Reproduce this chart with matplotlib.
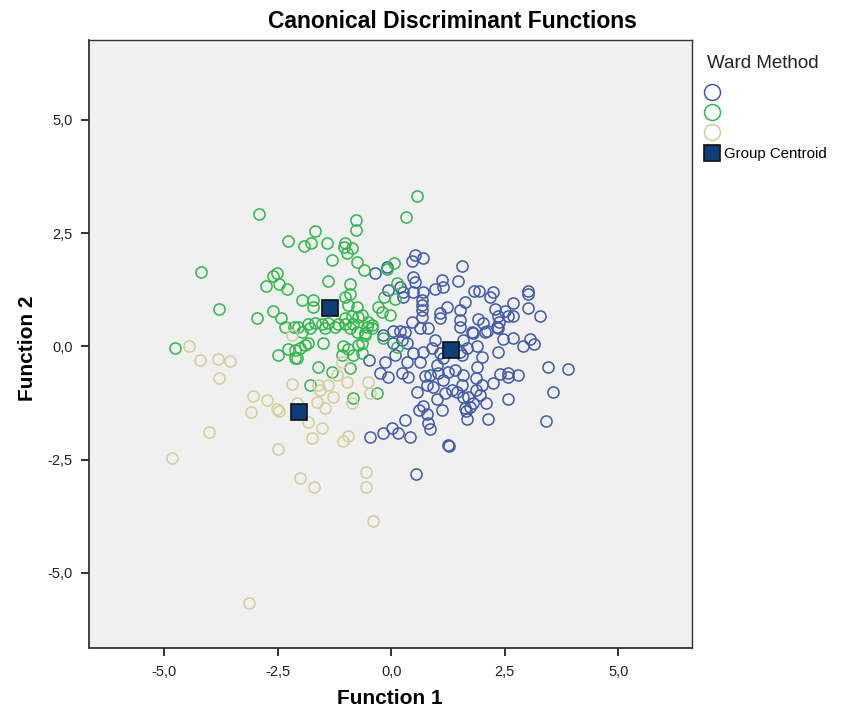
import matplotlib
matplotlib.use("Agg")
import matplotlib.pyplot as plt
from matplotlib.lines import Line2D
from matplotlib.ticker import FuncFormatter

plt.rcParams['font.family'] = ['Liberation Sans', 'DejaVu Sans']

# Group 1 (blue)
blue_x = [0.53, 0.46, 0.70, -0.35, -0.09, 1.56, 1.12, 1.48, 0.48, 0.53, 1.15, 0.97, 0.70, 0.48, 0.26,
          -0.07, 0.20, 0.26, 0.68, 0.68, 0.68, 1.23, 1.63, 1.52, 1.08, 1.08, 1.52, 1.52, 0.46, 0.68,
          0.81, 0.64, 0.04, 0.20, 0.31, -0.18, 0.24, 0.35, 0.04, 0.97, 0.90, 0.70, 0.48, 0.09, -0.13,
          -0.48, 0.35, 0.64, 1.01, 1.15, 1.08, 1.52, -0.24, -0.07, 0.24, 0.37, 0.75, 0.86, 1.04, 1.26,
          1.41, 1.56, 1.15, 0.79, 0.93, 1.19, 1.34, 0.57, 1.01, 1.45, 1.70, 1.63, 0.70, 0.62, 0.79,
          1.12, 0.31, 0.81, 0.86, 0.02, -0.18, 0.15, 0.42, -0.46, 1.26, 0.55, 1.83, 1.94, 2.25, 2.18,
          3.00, 3.00, 2.67, 3.00, 3.28, 2.29, 2.51, 2.69, 2.56, 1.92, 2.03, 2.36, 2.38, 2.33, 1.81,
          2.07, 2.47, 2.69, 2.89, 3.06, 3.15, 2.36, 1.59, 1.67, 1.56, 1.89, 2.00, 1.89, 3.46, 3.88,
          2.40, 2.56, 2.58, 2.80, 2.25, 1.87, 1.59, 2.00, 1.87, 1.59, 1.96, 2.09, 1.81, 1.74, 1.65,
          1.67, 2.14, 2.56, 3.57, 3.41, 1.28, 1.78, 2.11, 2.36]
blue_y = [2.01, 1.88, 1.94, 1.61, 1.74, 1.77, 1.46, 1.43, 1.52, 1.41, 1.30, 1.26, 1.19, 1.19, 1.19,
          1.24, 1.30, 1.08, 1.02, 0.91, 0.79, 0.86, 0.97, 0.79, 0.73, 0.62, 0.57, 0.42, 0.53, 0.64,
          0.40, 0.40, 0.33, 0.33, 0.31, 0.24, 0.13, 0.07, 0.07, 0.13, -0.04, -0.13, -0.15, -0.20, -0.35,
          -0.31, -0.35, -0.35, -0.42, -0.26, -0.15, -0.13, -0.60, -0.68, -0.60, -0.68, -0.66, -0.64, -0.60, -0.57,
          -0.53, -0.86, -0.75, -0.86, -0.91, -1.04, -0.97, -1.02, -1.17, -1.02, -1.13, -1.37, -1.32, -1.41, -1.50,
          -1.41, -1.63, -1.70, -1.83, -1.81, -1.92, -1.92, -2.01, -2.01, -2.19, -2.83, 1.21, 1.21, 1.19, 1.08,
          1.21, 1.15, 0.95, 0.84, 0.66, 0.82, 0.77, 0.66, 0.66, 0.60, 0.51, 0.66, 0.53, 0.42, 0.29,
          0.31, 0.15, 0.18, 0.00, 0.15, 0.04, -0.13, 0.13, -0.04, -0.20, 0.00, -0.24, -0.46, -0.46, -0.51,
          -0.62, -0.60, -0.68, -0.64, -0.82, -0.71, -0.64, -0.86, -0.97, -1.13, -1.08, -1.26, -1.26, -1.35, -1.43,
          -1.61, -1.61, -1.17, -1.02, -1.66, -2.21, 0.31, 0.33, 0.40]

# Group 2 (green)
green_x = [0.57, -2.91, 0.33, -0.77, -0.77, -1.67, -2.27, -1.92, -1.76, -1.41, -1.01, -1.04, -0.86, -0.97,
           -1.30, -0.75, -0.59, 0.07, -0.09, -1.39, -0.90, 0.13, -0.15, 0.09, -1.96, -1.72, -1.72, -1.01,
           -0.90, -0.75, -0.95, -0.29, -0.20, -0.02, -0.86, -0.73, -1.01, -0.51, -0.42, -1.83, -1.67, -1.52,
           -1.39, -1.17, -1.01, -0.84, -2.05, -4.19, -2.51, -2.60, -2.75, -2.47, -2.29, -3.79, -2.60, -2.42,
           -2.95, -2.33, -2.14, -4.76, -2.49, -2.27, -2.11, -2.11, -1.96, -1.78, -1.45, -1.23, -0.90, -0.75,
           -0.57, -0.42, -0.18, -1.89, -2.00, -2.07, -1.83, -1.50, -1.06, -0.95, -0.73, -0.84, -1.08, 0.13,
           -1.61, -1.30, -0.90, -1.78, -0.84, -0.31, -0.64, -0.53, -0.57, -0.64, -0.64]
green_y = [3.31, 2.91, 2.85, 2.78, 2.56, 2.54, 2.32, 2.21, 2.27, 2.27, 2.27, 2.19, 2.16, 2.05,
           1.90, 1.85, 1.68, 1.83, 1.70, 1.43, 1.37, 1.39, 1.08, 1.04, 1.02, 1.02, 0.86, 1.08,
           1.15, 0.86, 0.91, 0.86, 0.75, 0.68, 0.66, 0.64, 0.62, 0.53, 0.46, 0.49, 0.51, 0.49,
           0.51, 0.49, 0.49, 0.49, 0.42, 1.63, 1.61, 1.55, 1.32, 1.37, 1.26, 0.82, 0.77, 0.62,
           0.62, 0.42, 0.42, -0.04, -0.20, -0.07, -0.09, -0.26, 0.31, 0.40, 0.40, 0.42, 0.40, 0.31,
           0.29, 0.40, 0.18, 0.02, -0.04, -0.26, 0.07, 0.07, 0.00, -0.07, 0.02, -0.20, -0.20, -0.02,
           -0.46, -0.57, -0.49, -0.86, -1.15, -1.04, 0.68, 0.42, 0.24, 0.07, -0.15]

# Group 3 (beige)
beige_x = [-4.45, -4.21, -3.81, -3.55, -3.79, -4.01, -4.82, -3.04, -2.73, -2.51, -2.47, -3.08, -2.49,
           -2.18, -2.18, -2.00, -1.70, -0.55, -0.55, -0.40, -3.13, -1.83, -1.52, -1.74, -1.06, -0.95,
           -1.08, -1.19, -0.97, -1.39, -1.61, -1.56, -1.28, -0.86, -1.63, -1.45, -0.51, -0.46, -2.07]
beige_y = [0.00, -0.31, -0.29, -0.33, -0.71, -1.90, -2.47, -1.10, -1.19, -1.39, -1.43, -1.46, -2.27,
           -0.84, 0.24, -2.91, -3.11, -2.78, -3.11, -3.86, -5.67, -1.68, -1.81, -2.03, -2.08, -1.99,
           -0.35, -0.64, -0.79, -0.86, -0.86, -0.97, -1.13, -1.26, -1.24, -1.37, -0.79, -1.04, -1.26]

# Group centroids (blue, green, beige)
centroid_x = [1.32, -1.34, -2.03]
centroid_y = [-0.09, 0.84, -1.46]

tick_vals = [-5.0, -2.5, 0.0, 2.5, 5.0]

col_blue = '#3E58AC'
col_green = '#2EB848'
col_beige = '#D3CE97'
col_cent = '#0B3F7A'

W, H = 845, 712
fig = plt.figure(figsize=(W / 100, H / 100), dpi=100)
ax = fig.add_axes([89.5 / W, 1 - 648 / H, (692 - 89.5) / W, (648 - 40) / H])
ax.set_facecolor('#F0F0F0')

ms = 8
mew = 1.1
ax.plot(blue_x, blue_y, 'o', ms=ms, mfc='none', mec=col_blue, mew=mew, ls='none')
ax.plot(green_x, green_y, 'o', ms=ms, mfc='none', mec=col_green, mew=mew, ls='none')
ax.plot(beige_x, beige_y, 'o', ms=ms, mfc='none', mec=col_beige, mew=mew, ls='none')
ax.plot(centroid_x, centroid_y, 's', ms=12, mfc=col_cent, mec='#111111', mew=1.2, ls='none', zorder=5)

ax.set_xlim(-6.64, 6.62)
ax.set_ylim(-6.66, 6.76)
ax.set_xticks(tick_vals)
ax.set_yticks(tick_vals)
fmt = FuncFormatter(lambda v, p: ('%.1f' % v).replace('.', ','))
ax.xaxis.set_major_formatter(fmt)
ax.yaxis.set_major_formatter(fmt)
ax.tick_params(direction='out', length=6, width=1.3, labelsize=10.5, pad=6, color='#222222',
               labelcolor='#222222')
for s in ax.spines.values():
    s.set_color('#333333')
    s.set_linewidth(1.0)
ax.spines['left'].set_linewidth(1.3)
ax.spines['bottom'].set_linewidth(1.3)

fig.text(390 / W, 1 - 699 / H, 'Function 1', ha='center', va='center',
         fontsize=15, fontweight='bold')
fig.text(28 / W, 1 - 348 / H, 'Function 2', ha='center', va='center', rotation=90,
         fontsize=15, fontweight='bold')
fig.text(452 / W, 1 - 22 / H, 'Canonical Discriminant Functions', ha='center', va='center',
         fontsize=16.5, fontweight='bold')

# Legend (drawn in figure coordinates)
fig.text(707 / W, 1 - 63 / H, 'Ward Method', ha='left', va='center', fontsize=13.5, color='#222222')
leg_cols = [col_blue, col_green, col_beige]
leg_y = [92, 112, 132]
for c, yy in zip(leg_cols, leg_y):
    fig.add_artist(Line2D([712 / W], [1 - yy / H], marker='o', ls='none', ms=11.5, mfc='none',
                          mec=c, mew=1.1, transform=fig.transFigure))
fig.add_artist(Line2D([712 / W], [1 - 153 / H], marker='s', ls='none', ms=12, mfc=col_cent,
                      mec='#111111', mew=1.2, transform=fig.transFigure))
fig.text(724 / W, 1 - 154 / H, 'Group Centroid', ha='left', va='center', fontsize=10.8)

fig.savefig('out.png', dpi=100)
